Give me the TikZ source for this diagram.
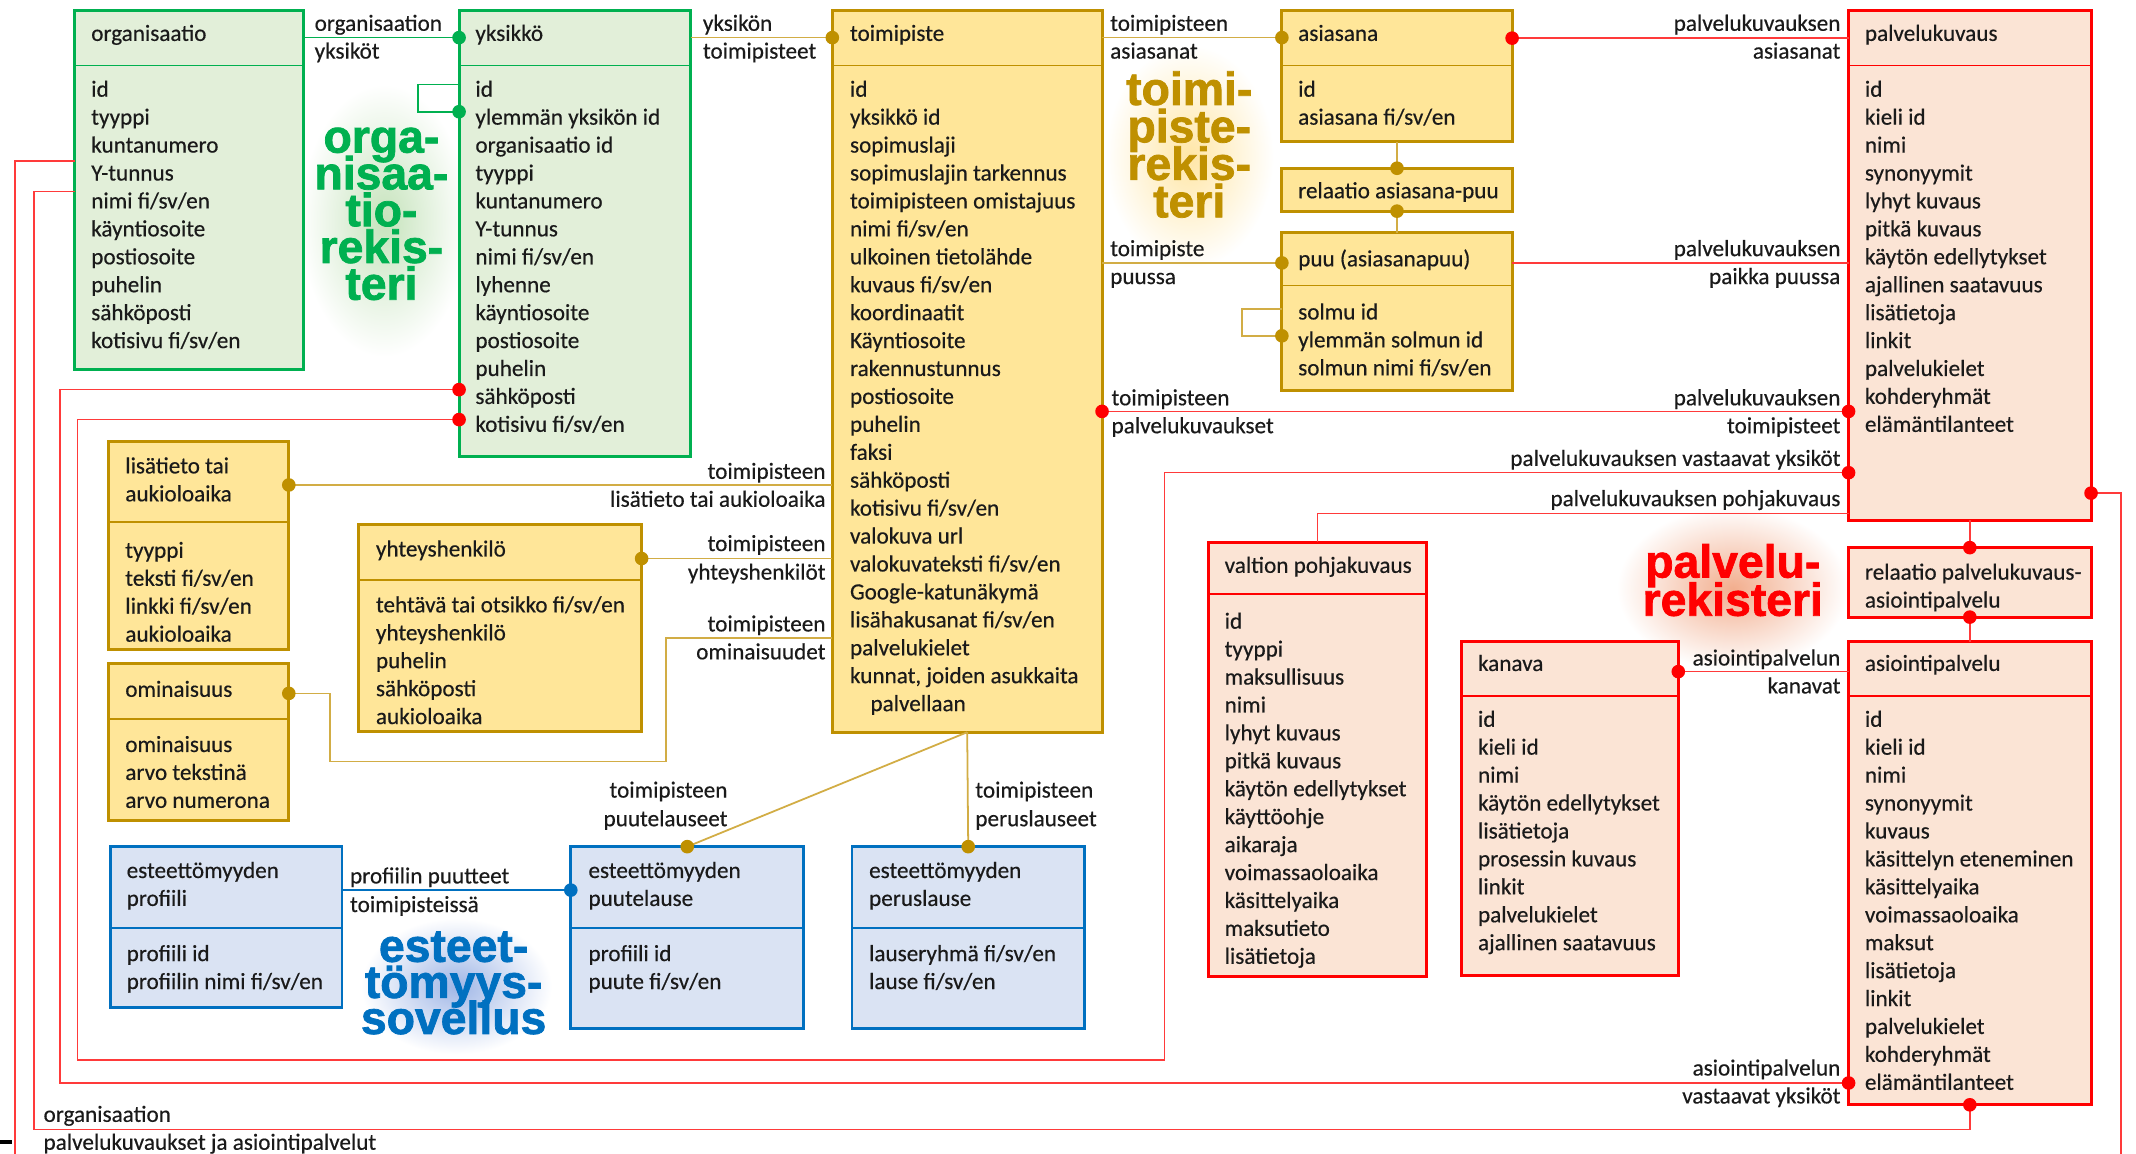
\documentclass[tikz,border=0pt]{standalone}
\usepackage{fontspec}
\setmainfont{Carlito}[FakeBold=0.4]
\newfontfamily\bigsans{Liberation Sans Bold}[FakeBold=1.6]
\definecolor{grB}{HTML}{00B050}
\definecolor{grF}{HTML}{E2EFD9}
\definecolor{yeB}{HTML}{BF9000}
\definecolor{yeF}{HTML}{FFE699}
\definecolor{yeL}{HTML}{D2AD45}
\definecolor{blB}{HTML}{0070C0}
\definecolor{blF}{HTML}{DAE3F3}
\definecolor{rdB}{HTML}{FF0000}
\definecolor{rdF}{HTML}{FBE4D5}
\definecolor{rdL}{HTML}{FF3A3A}
\definecolor{txtc}{HTML}{1A1A1A}
\definecolor{glowG}{HTML}{C6E3BC}
\definecolor{glowY}{HTML}{FFE6A6}
\definecolor{glowB}{HTML}{9FB6E6}
\definecolor{glowR}{HTML}{F2AE8E}
\tikzset{
  every node/.style={inner sep=0pt, outer sep=0pt},
  txt/.style={font=\fontsize{17}{20.5}\selectfont, text=txtc},
  big/.style={font=\bigsans\fontsize{34}{27}\selectfont, anchor=base},
  boxG/.style={rectangle, draw=grB, fill=grF, line width=2.2pt},
  boxY/.style={rectangle, draw=yeB, fill=yeF, line width=2.2pt},
  boxB/.style={rectangle, draw=blB, fill=blF, line width=2pt},
  boxR/.style={rectangle, draw=rdB, fill=rdF, line width=2.2pt},
  sepG/.style={draw=grB, line width=1.3pt},
  sepY/.style={draw=yeB, line width=1.3pt},
  sepB/.style={draw=blB, line width=1.3pt},
  sepR/.style={draw=rdB, line width=1.1pt},
  lnG/.style={draw=grB, line width=1.3pt},
  lnY/.style={draw=yeL, line width=1.3pt},
  lnB/.style={draw=blB, line width=1.3pt},
  lnR/.style={draw=rdL, line width=1.1pt},
  dotG/.style={fill=grB},
  dotY/.style={fill=yeB},
  dotB/.style={fill=blB},
  dotR/.style={fill=rdB},
}
\newcommand\erbox[7]{%
  \node[box#2, anchor=north west, minimum width={(#5-#3)*1pt}, minimum height={(#6-#4)*1pt}] (#1) at (#3,#4) {};
  \draw[sep#2] (#3,#7) -- (#5,#7);}
\newcommand\relbox[6]{%
  \node[box#2, anchor=north west, minimum width={(#5-#3)*1pt}, minimum height={(#6-#4)*1pt}] (#1) at (#3,#4) {};}
\newcommand\itemlist[4]{%
  \foreach \itm [count=\i] in {#4} {\node[txt, anchor=base west] (#1\i) at ({#2},{#3+20.5*(\i-1)}) {\itm};}}
\newcommand\lbl[5]{\node[txt, anchor=base #2] (#1) at (#3,#4) {#5};}
% one centred line of a big register label
\newcommand\cl[1]{\hbox to 150pt{\hss#1\hss}}
% big register label: name, colour, x, first baseline, line step, lines
\newcommand\bigtext[6]{%
  \node[big, text=#2] (#1) at (#3,#4) {\vtop{\baselineskip=#5pt\lineskiplimit=-100pt\lineskip=0pt\relax #6}};}
\newcommand\sdot[2]{\fill[#1] #2 circle (5pt);}
\begin{document}
\begin{tikzpicture}[x=1pt,y=-1pt]
\useasboundingbox (0,0) rectangle (1568,847);
\fill[white] (0,0) rectangle (1568,847);
% glows
\shade[inner color=glowG, outer color=white] (282,162) ellipse (62pt and 100pt);
\shade[inner color=glowY, outer color=white] (873,115) ellipse (62pt and 82pt);
\shade[inner color=glowB, outer color=white] (335,724) ellipse (70pt and 50pt);
\shade[inner color=glowR, outer color=white] (1272,432) ellipse (85pt and 60pt);

% ---------------- boxes ----------------
\erbox{org}{G}{55}{8}{223}{271}{48}
\erbox{yks}{G}{337}{8}{507}{335}{48}
\erbox{toim}{Y}{611}{8}{809}{537.5}{48}
\erbox{asia}{Y}{941}{8}{1110}{104}{48}
\relbox{relA}{Y}{941}{123.5}{1110}{155}
\erbox{puu}{Y}{941}{171}{1110}{286.5}{209.5}
\erbox{lisa}{Y}{80}{324}{212}{477}{383}
\erbox{yht}{Y}{263}{385}{471}{537}{426}
\erbox{omin}{Y}{80}{487}{212}{602}{528}
\erbox{prof}{B}{81}{621.5}{251}{739.5}{681}
\erbox{puut}{B}{419}{621.5}{590}{755}{681}
\erbox{perus}{B}{625.5}{621.5}{796}{755}{681}
\erbox{palv}{R}{1357}{8}{1535}{382}{48}
\relbox{relP}{R}{1357}{402}{1535}{453}
\erbox{asio}{R}{1357}{471}{1535}{811}{511}
\erbox{kan}{R}{1073}{471}{1232}{716}{511}
\erbox{valt}{R}{887}{398}{1047}{717}{436}

% ---------------- box texts ----------------
\itemlist{orgT}{67}{30}{organisaatio}
\itemlist{orgI}{67}{71}{id, tyyppi, kuntanumero, Y-tunnus, nimi fi/sv/en, käyntiosoite, postiosoite, puhelin, sähköposti, kotisivu fi/sv/en}
\itemlist{yksT}{349}{30}{yksikkö}
\itemlist{yksI}{349}{71}{id, ylemmän yksikön id, organisaatio id, tyyppi, kuntanumero, Y-tunnus, nimi fi/sv/en, lyhenne, käyntiosoite, postiosoite, puhelin, sähköposti, kotisivu fi/sv/en}
\itemlist{toimT}{624}{30}{toimipiste}
\itemlist{toimI}{624}{71}{id, yksikkö id, sopimuslaji, sopimuslajin tarkennus, toimipisteen omistajuus, nimi fi/sv/en, ulkoinen tietolähde, kuvaus fi/sv/en, koordinaatit, Käyntiosoite, rakennustunnus, postiosoite, puhelin, faksi, sähköposti, kotisivu fi/sv/en, valokuva url, valokuvateksti fi/sv/en, Google-katunäkymä, lisähakusanat fi/sv/en, palvelukielet, {kunnat, joiden asukkaita}, \hspace*{15pt}palvellaan}
\itemlist{asiaT}{953}{30}{asiasana}
\itemlist{asiaI}{953}{71}{id, asiasana fi/sv/en}
\itemlist{relAT}{953}{145.5}{relaatio asiasana-puu}
\itemlist{puuT}{953}{195.5}{puu (asiasanapuu)}
\itemlist{puuI}{953}{234.5}{solmu id, ylemmän solmun id, solmun nimi fi/sv/en}
\itemlist{lisaT}{92}{347.5}{lisätieto tai, aukioloaika}
\itemlist{lisaI}{92}{409.5}{tyyppi, teksti fi/sv/en, linkki fi/sv/en, aukioloaika}
\itemlist{yhtT}{276}{408.5}{yhteyshenkilö}
\itemlist{yhtI}{276}{449.5}{tehtävä tai otsikko fi/sv/en, yhteyshenkilö, puhelin, sähköposti, aukioloaika}
\itemlist{ominT}{92}{511.5}{ominaisuus}
\itemlist{ominI}{92}{552}{ominaisuus, arvo tekstinä, arvo numerona}
\itemlist{profT}{93}{644.5}{esteettömyyden, profiili}
\itemlist{profI}{93}{705.5}{profiili id, profiilin nimi fi/sv/en}
\itemlist{puutT}{432}{644.5}{esteettömyyden, puutelause}
\itemlist{puutI}{432}{705.5}{profiili id, puute fi/sv/en}
\itemlist{perusT}{638}{644.5}{esteettömyyden, peruslause}
\itemlist{perusI}{638}{705.5}{lauseryhmä fi/sv/en, lause fi/sv/en}
\itemlist{palvT}{1369}{30}{palvelukuvaus}
\itemlist{palvI}{1369}{71}{id, kieli id, nimi, synonyymit, lyhyt kuvaus, pitkä kuvaus, käytön edellytykset, ajallinen saatavuus, lisätietoja, linkit, palvelukielet, kohderyhmät, elämäntilanteet}
\itemlist{relPT}{1369}{425.5}{relaatio palvelukuvaus-, asiointipalvelu}
\itemlist{asioT}{1369}{492.5}{asiointipalvelu}
\itemlist{asioI}{1369}{533.5}{id, kieli id, nimi, synonyymit, kuvaus, käsittelyn eteneminen, käsittelyaika, voimassaoloaika, maksut, lisätietoja, linkit, palvelukielet, kohderyhmät, elämäntilanteet}
\itemlist{kanT}{1085}{492.5}{kanava}
\itemlist{kanI}{1085}{533.5}{id, kieli id, nimi, käytön edellytykset, lisätietoja, prosessin kuvaus, linkit, palvelukielet, ajallinen saatavuus}
\itemlist{valtT}{899}{420.5}{valtion pohjakuvaus}
\itemlist{valtI}{899}{461.5}{id, tyyppi, maksullisuus, nimi, lyhyt kuvaus, pitkä kuvaus, käytön edellytykset, käyttöohje, aikaraja, voimassaoloaika, käsittelyaika, maksutieto, lisätietoja}

% ---------------- big register labels ----------------
\bigtext{bigG}{grB}{280}{112}{27}{\cl{orga-}\cl{nisaa-}\cl{tio-}\cl{rekis-}\cl{teri}}
\bigtext{bigY}{yeB}{873}{77}{27.5}{\cl{toimi-}\cl{piste-}\cl{rekis-}\cl{teri}}
\bigtext{bigB}{blB}{333}{706}{26.5}{\cl{esteet-}\cl{tömyys-}\cl{sovellus}}
\bigtext{bigR}{rdB}{1272}{424}{28}{\cl{palvelu-}\cl{rekisteri}}

% ---------------- green connectors ----------------
\draw[lnG] (org.east |- 0,27.6) -- (yks.west |- 0,27.6);
\sdot{dotG}{(yks.west |- 0,27.6)}
\lbl{l01}{west}{231}{22.6}{organisaation}
\lbl{l02}{west}{231}{43}{yksiköt}
\draw[lnG] (yks.west |- 0,62) -- (307,62) -- (307,82) -- (yks.west |- 0,82);
\sdot{dotG}{(yks.west |- 0,82)}

% ---------------- gold connectors ----------------
\draw[lnY] (yks.east |- 0,27.6) -- (toim.west |- 0,27.6);
\sdot{dotY}{(toim.west |- 0,27.6)}
\lbl{l03}{west}{516}{22.6}{yksikön}
\lbl{l04}{west}{516}{43}{toimipisteet}
\draw[lnY] (toim.east |- 0,27.6) -- (asia.west |- 0,27.6);
\sdot{dotY}{(asia.west |- 0,27.6)}
\lbl{l05}{west}{815}{22.6}{toimipisteen}
\lbl{l06}{west}{815}{43}{asiasanat}
\draw[lnY] (asia.south) -- (relA.north);
\sdot{dotY}{(relA.north)}
\draw[lnY] (relA.south) -- (puu.north);
\sdot{dotY}{(relA.south)}
\draw[lnY] (toim.east |- 0,193) -- (puu.west |- 0,193);
\sdot{dotY}{(puu.west |- 0,193)}
\lbl{l07}{west}{815}{188}{toimipiste}
\lbl{l08}{west}{815}{208.5}{puussa}
\draw[lnY] (puu.west |- 0,227) -- (912,227) -- (912,246.5) -- (puu.west |- 0,246.5);
\sdot{dotY}{(puu.west |- 0,246.5)}
\draw[lnY] (lisa.east |- 0,356) -- (toim.west |- 0,356);
\sdot{dotY}{(lisa.east |- 0,356)}
\lbl{l09}{east}{606}{351.5}{toimipisteen}
\lbl{l10}{east}{606}{372}{lisätieto tai aukioloaika}
\draw[lnY] (yht.east |- 0,410) -- (toim.west |- 0,410);
\sdot{dotY}{(yht.east |- 0,410)}
\lbl{l11}{east}{606}{404.5}{toimipisteen}
\lbl{l12}{east}{606}{425.5}{yhteyshenkilöt}
\draw[lnY] (omin.east |- 0,509) -- (242,509) -- (242,559) -- (489,559) -- (489,468.5) -- (toim.west |- 0,468.5);
\sdot{dotY}{(omin.east |- 0,509)}
\lbl{l13}{east}{606}{463.5}{toimipisteen}
\lbl{l14}{east}{606}{484}{ominaisuudet}
\draw[lnY] (toim.south) -- (puut.north);
\sdot{dotY}{(puut.north)}
\lbl{l15}{east}{534}{585.5}{toimipisteen}
\lbl{l16}{east}{534}{606.5}{puutelauseet}
\draw[lnY] (toim.south) -- (perus.north);
\sdot{dotY}{(perus.north)}
\lbl{l17}{west}{716}{585.5}{toimipisteen}
\lbl{l18}{west}{716}{606.5}{peruslauseet}

% ---------------- blue connector ----------------
\draw[lnB] (prof.east |- 0,653.4) -- (puut.west |- 0,653.4);
\sdot{dotB}{(puut.west |- 0,653.4)}
\lbl{l19}{west}{257}{648.5}{profiilin puutteet}
\lbl{l20}{west}{257}{669.5}{toimipisteissä}

% ---------------- red connectors ----------------
\draw[lnR] (asia.east |- 0,28) -- (palv.west |- 0,28);
\sdot{dotR}{(asia.east |- 0,28)}
\lbl{l21}{east}{1351}{22.6}{palvelukuvauksen}
\lbl{l22}{east}{1351}{43}{asiasanat}
\draw[lnR] (puu.east |- 0,193) -- (palv.west |- 0,193);
\lbl{l23}{east}{1351}{188}{palvelukuvauksen}
\lbl{l24}{east}{1351}{208.5}{paikka puussa}
\draw[lnR] (toim.east |- 0,302) -- (palv.west |- 0,302);
\sdot{dotR}{(toim.east |- 0,302)}
\sdot{dotR}{(palv.west |- 0,302)}
\lbl{l25}{west}{816}{297.5}{toimipisteen}
\lbl{l26}{west}{816}{318}{palvelukuvaukset}
\lbl{l27}{east}{1351}{297.5}{palvelukuvauksen}
\lbl{l28}{east}{1351}{318}{toimipisteet}
\draw[lnR] (palv.west |- 0,347) -- (855,347) -- (855,778) -- (57,778) -- (57,308) -- (yks.west |- 0,308);
\sdot{dotR}{(palv.west |- 0,347)}
\sdot{dotR}{(yks.west |- 0,308)}
\lbl{l29}{east}{1351}{342}{palvelukuvauksen vastaavat yksiköt}
\draw[lnR] (palv.west |- 0,377) -| (valt.north);
\lbl{l30}{east}{1351}{371.5}{palvelukuvauksen pohjakuvaus}
\draw[lnR] (palv.south) -- (relP.north);
\sdot{dotR}{(relP.north)}
\draw[lnR] (relP.south) -- (asio.north);
\sdot{dotR}{(relP.south)}
\draw[lnR] (kan.east |- 0,493) -- (asio.west |- 0,493);
\sdot{dotR}{(kan.east |- 0,493)}
\lbl{l31}{east}{1351}{488.5}{asiointipalvelun}
\lbl{l32}{east}{1351}{509}{kanavat}
\draw[lnR] (asio.west |- 0,795) -- (44,795) -- (44,286) -- (yks.west |- 0,286);
\sdot{dotR}{(asio.west |- 0,795)}
\sdot{dotR}{(yks.west |- 0,286)}
\lbl{l33}{east}{1351}{789.5}{asiointipalvelun}
\lbl{l34}{east}{1351}{810}{vastaavat yksiköt}
\draw[lnR] (org.west |- 0,140.6) -- (25,140.6) -- (25,829) -- (asio.south |- 0,829) -- (asio.south);
\sdot{dotR}{(asio.south)}
\lbl{l35}{west}{32}{823.5}{organisaation}
\lbl{l36}{west}{32}{844}{palvelukuvaukset ja asiointipalvelut}
\draw[lnR] (org.west |- 0,118) -- (11,118) -- (11,850);
\draw[lnR] (palv.east |- 0,362) -- (1557,362) -- (1557,850);
\sdot{dotR}{(palv.east |- 0,362)}
\draw[line width=3pt, black] (0,838.5) -- (9,838.5);
\end{tikzpicture}
\end{document}
